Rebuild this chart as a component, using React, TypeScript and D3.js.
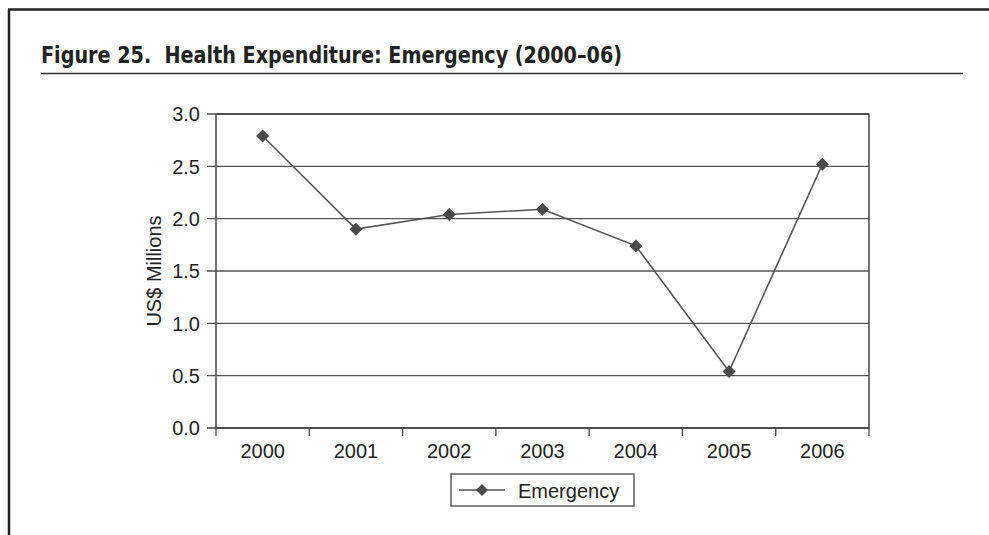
import React from "react";
import * as d3 from "d3";

const years = ["2000", "2001", "2002", "2003", "2004", "2005", "2006"];
const emergency = [2.79, 1.9, 2.04, 2.09, 1.74, 0.54, 2.52];
const yTicks = [0, 0.5, 1.0, 1.5, 2.0, 2.5, 3.0];
const seriesName = "Emergency";
const titleText = "Figure 25.  Health Expenditure: Emergency (2000–06)";
const yLabel = "US$ Millions";

const W = 989;
const H = 535;
const plot = { left: 216, right: 869, top: 114, bottom: 428 };

function diamond(cx: number, cy: number, r: number) {
  return `M${cx},${cy - r}L${cx + r},${cy}L${cx},${cy + r}L${cx - r},${cy}Z`;
}

export default function App() {
  const x = d3.scaleBand<string>().domain(years).range([plot.left, plot.right]).padding(0);
  const y = d3.scaleLinear().domain([0, 3]).range([plot.bottom, plot.top]);
  const cx = (i: number) => (x(years[i]) as number) + x.bandwidth() / 2;
  const line = d3
    .line<number>()
    .x((_, i) => cx(i))
    .y((d) => y(d));
  const axisColor = "#444";
  const font = "'Liberation Sans', Arial, sans-serif";
  const boundaries = d3.range(years.length + 1).map((i) => plot.left + i * x.bandwidth());
  const legend = { x: 451, y: 474, w: 183, h: 32 };

  return (
    <svg
      width={W}
      height={H}
      style={{ position: "absolute", left: 0, top: 0, background: "#fff" }}
    >
      <rect x={0} y={0} width={W} height={H} fill="#fff" />
      {/* outer frame */}
      <line x1={8} y1={9.5} x2={W} y2={9.5} stroke="#222" strokeWidth={2.5} />
      <line x1={9} y1={9} x2={9} y2={H} stroke="#222" strokeWidth={2.5} />
      {/* title */}
      <text
        x={41}
        y={62.5}
        fontFamily="'DejaVu Sans Condensed', 'DejaVu Sans', sans-serif"
        fontWeight="bold"
        fontSize={22.5}
        fill="#222"
        textLength={581}
        lengthAdjust="spacingAndGlyphs"
        style={{ whiteSpace: "pre" }}
      >
        {titleText}
      </text>
      <line x1={41} y1={73.5} x2={963} y2={73.5} stroke="#333" strokeWidth={1.5} />

      {/* gridlines */}
      {yTicks.map((t) => (
        <line
          key={"g" + t}
          x1={plot.left - 9}
          x2={plot.right}
          y1={y(t)}
          y2={y(t)}
          stroke={t === 0 ? axisColor : "#555"}
          strokeWidth={1.3}
        />
      ))}
      {/* plot border */}
      <rect
        x={plot.left}
        y={plot.top}
        width={plot.right - plot.left}
        height={plot.bottom - plot.top}
        fill="none"
        stroke={axisColor}
        strokeWidth={1.5}
      />
      {/* y labels */}
      {yTicks.map((t) => (
        <text
          key={"yt" + t}
          x={plot.left - 16}
          y={y(t)}
          dy="0.36em"
          textAnchor="end"
          fontFamily={font}
          fontSize={20}
          fill="#222"
        >
          {t.toFixed(1)}
        </text>
      ))}
      {/* x ticks */}
      {boundaries.map((bx, i) => (
        <line key={"xt" + i} x1={bx} x2={bx} y1={plot.bottom} y2={plot.bottom + 8} stroke={axisColor} strokeWidth={1.3} />
      ))}
      {years.map((yr, i) => (
        <text
          key={"xl" + yr}
          x={cx(i)}
          y={458}
          textAnchor="middle"
          fontFamily={font}
          fontSize={20}
          fill="#222"
        >
          {yr}
        </text>
      ))}
      {/* y axis title */}
      <text
        transform={`translate(161,${(plot.top + plot.bottom) / 2}) rotate(-90)`}
        textAnchor="middle"
        fontFamily={font}
        fontSize={20}
        fill="#222"
      >
        {yLabel}
      </text>

      {/* series */}
      <path d={line(emergency) || ""} fill="none" stroke="#555" strokeWidth={1.6} />
      {emergency.map((v, i) => (
        <path key={"m" + i} d={diamond(cx(i), y(v), 6.5)} fill="#4a4a4a" />
      ))}

      {/* legend */}
      <rect x={legend.x} y={legend.y} width={legend.w} height={legend.h} fill="#fff" stroke="#444" strokeWidth={1.3} />
      <line x1={legend.x + 8} x2={legend.x + 54} y1={legend.y + 16} y2={legend.y + 16} stroke="#555" strokeWidth={1.6} />
      <path d={diamond(legend.x + 31, legend.y + 16, 6)} fill="#4a4a4a" />
      <text x={legend.x + 67} y={legend.y + 23.5} fontFamily={font} fontSize={20} fill="#222">
        {seriesName}
      </text>
    </svg>
  );
}
